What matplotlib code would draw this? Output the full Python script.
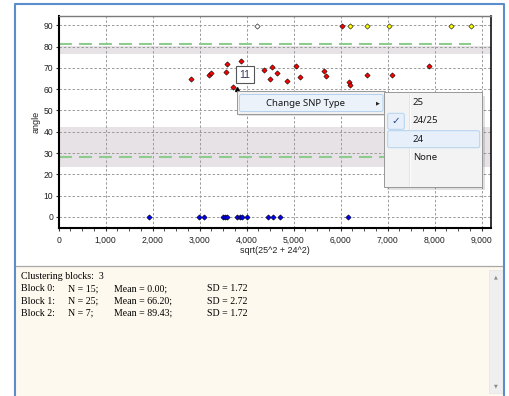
import matplotlib
matplotlib.use("Agg")
import matplotlib.pyplot as plt
from matplotlib.patches import Rectangle, FancyBboxPatch
from matplotlib.lines import Line2D
from matplotlib.ticker import MultipleLocator, FuncFormatter

# ---------------- data ----------------
red_x = [2820, 3190, 3240, 3560, 3590, 3700, 3870, 3995, 4370, 4505, 4530,
         4650, 4850, 5055, 5130, 5650, 5695, 6175, 6205, 6560, 7100, 7880]
red_y = [64.6, 66.5, 67.6, 68.1, 72.0, 61.0, 73.4, 64.6, 68.9, 64.9, 70.3,
         67.6, 63.7, 70.7, 65.7, 68.4, 66.0, 63.4, 62.1, 66.8, 66.8, 70.7]
top_red_x = [6026]
top_red_y = [89.6]
yellow_x = [6195, 6560, 7036, 8343, 8776]
yellow_y = [89.6, 89.6, 89.6, 89.6, 89.6]
white_x = [4214]
white_y = [89.6]
blue_x = [1925, 2990, 3100, 3490, 3530, 3580, 3790, 3860, 3895, 4000,
          4450, 4550, 4700, 6160]
blue_y = [0, 0, 0, 0, 0, 0, 0, 0, 0, 0, 0, 0, 0, 0]
selected_x = [3800]
selected_y = [60.0]
selected_label = "11"
label_x = 3966
label_y = 66.8

threshold_lines = [81.4, 28.3]
bands = [(76.4, 80.3), (23.5, 42.1)]

x_ticks = [0, 1000, 2000, 3000, 4000, 5000, 6000, 7000, 8000, 9000]
y_ticks = [0, 10, 20, 30, 40, 50, 60, 70, 80, 90]
x_label = "sqrt(25^2 + 24^2)"
y_label = "angle"

menu_item = "Change SNP Type"
submenu_items = ["25", "24/25", "24", "None"]

n_blocks = 3
block_n = [15, 25, 7]
block_mean = [0.00, 66.20, 89.43]
block_sd = [1.72, 2.72, 1.72]

# ---------------- figure ----------------
W, H = 510, 396
fig = plt.figure(figsize=(W / 100, H / 100), dpi=100)
fig.patch.set_facecolor("white")


def prect(x0, y0, x1, y1, **kw):
    r = Rectangle((x0 / W, 1 - y1 / H), (x1 - x0) / W, (y1 - y0) / H,
                  transform=fig.transFigure, **kw)
    fig.add_artist(r)
    return r


def pround(x0, y0, x1, y1, **kw):
    r = FancyBboxPatch((x0 / W, 1 - y1 / H), (x1 - x0) / W, (y1 - y0) / H,
                       boxstyle="round,pad=0,rounding_size=0.004",
                       transform=fig.transFigure, **kw)
    fig.add_artist(r)
    return r


def pline(xs, ys, **kw):
    ln = Line2D([x / W for x in xs], [1 - y / H for y in ys],
                transform=fig.transFigure, **kw)
    fig.add_artist(ln)
    return ln


def ptext(x, y, s, **kw):
    return fig.text(x / W, 1 - y / H, s, **kw)


# background panels
prect(16, 266.5, 503.5, 397, facecolor="#FEF9EE", edgecolor="none", zorder=-5)
pline([16, 503.5], [266, 266], color="#A8A8A8", lw=0.9, zorder=-4)
# outer blue frame
pline([15, 15, 504, 504], [400, 3.8, 3.8, 400], color="#5B8DCB", lw=1.5, zorder=-3)

# scrollbar
prect(489.5, 270, 503, 392.7, facecolor="#EFEFEF", edgecolor="#E4E4E4", lw=0.5, zorder=-4)
ptext(496.3, 277, "\u25B2", fontsize=3.5, color="#8A8A8A", ha="center", va="center",
      family="DejaVu Sans", zorder=-3)
ptext(496.3, 386, "\u25BC", fontsize=3.5, color="#8A8A8A", ha="center", va="center",
      family="DejaVu Sans", zorder=-3)

# ---------------- axes ----------------
ax_l, ax_r, ax_t, ax_b = 58.7, 491, 15.7, 228
ax = fig.add_axes([ax_l / W, 1 - ax_b / H, (ax_r - ax_l) / W, (ax_b - ax_t) / H])
ax.set_facecolor("white")
ax.set_xlim(0, 9200)
ax.set_ylim(-5.2, 94.5)

for lo, hi in bands:
    ax.axhspan(lo, hi, facecolor="#E7E2E6", edgecolor="none", zorder=0.3)

ax.set_xticks(x_ticks)
ax.set_yticks(y_ticks)
ax.xaxis.set_minor_locator(MultipleLocator(250))
ax.xaxis.set_major_formatter(FuncFormatter(lambda v, p: f"{int(v):,}"))
ax.grid(True, which="major", color="#9A9A9A", lw=0.7, linestyle=(0, (2.5, 2.0)), zorder=0.6)
ax.set_axisbelow(True)

ax.tick_params(axis="both", which="major", direction="out", length=2.5, width=0.8,
               color="#333333", labelsize=6.2, labelcolor="#222222", pad=1.5)
ax.tick_params(axis="x", which="major", pad=3)
ax.tick_params(axis="x", which="minor", direction="out", length=1.8, width=0.6, color="#333333")
for lab in ax.get_xticklabels() + ax.get_yticklabels():
    lab.set_family("Liberation Sans")

ax.spines["left"].set_linewidth(1.5)
ax.spines["bottom"].set_linewidth(1.5)
ax.spines["left"].set_color("black")
ax.spines["bottom"].set_color("black")
ax.spines["top"].set_color("#7A7A7A")
ax.spines["top"].set_linewidth(1.0)
ax.spines["right"].set_color("#111111")
ax.spines["right"].set_linewidth(1.2)

all_x = red_x + top_red_x + yellow_x + white_x + blue_x
xmax_data = max(all_x)
for yv in threshold_lines:
    ax.hlines(yv, 0, xmax_data, colors="#8ECB8E", lw=1.5,
              linestyles=[(0, (6.2, 3.4))], zorder=2)

mk = dict(marker="D", markersize=2.7, markeredgecolor="black", markeredgewidth=0.4,
          linestyle="none", zorder=4)
ax.plot(red_x, red_y, markerfacecolor="#FF0000", **mk)
ax.plot(top_red_x, top_red_y, markerfacecolor="#FF0000", **mk)
ax.plot(yellow_x, yellow_y, markerfacecolor="#FFFF00", **mk)
ax.plot(white_x, white_y, markerfacecolor="white", **mk)
ax.plot(blue_x, blue_y, markerfacecolor="#0000FF", **mk)
ax.plot(selected_x, selected_y, marker="^", markersize=2.8, color="black",
        linestyle="none", zorder=5)
ax.text(label_x, label_y, selected_label, fontsize=7.5, color="#3A3060",
        family="Liberation Sans", ha="center", va="center", zorder=6,
        bbox=dict(boxstyle="square,pad=0.32", fc="white", ec="#555555", lw=0.8))

ax.set_xlabel(x_label, fontsize=6.5, family="Liberation Sans", color="#222222")
ax.set_ylabel(y_label, fontsize=6.5, family="Liberation Sans", color="#222222")
ax.xaxis.set_label_coords(0.5, -0.085)
ax.yaxis.set_label_coords(-0.041, 0.5)

# ---------------- context menu ----------------
mfont = dict(family="Noto Sans", fontsize=6.9, color="#1A1A1A", zorder=14)
# main menu
prect(239.5, 94, 388, 116.5, facecolor="#000000", alpha=0.12, edgecolor="none", zorder=10)
prect(236.7, 91, 385, 113.5, facecolor="#F1F1F1", edgecolor="#979797", lw=0.7, zorder=11)
pround(239.5, 94.5, 383, 111.5, facecolor="#EBF2FA", edgecolor="#B3D2EF", lw=0.7, zorder=12)
ptext(265.7, 103, menu_item, ha="left", va="center", **mfont)
ptext(377.7, 103, "\u25B6", ha="center", va="center", family="DejaVu Sans",
      fontsize=3.6, color="#222222", zorder=14)

# submenu
prect(387.5, 95.5, 485.5, 190, facecolor="#000000", alpha=0.12, edgecolor="none", zorder=10)
prect(384.3, 92.3, 482.3, 186.7, facecolor="#F3F3F3", edgecolor="#979797", lw=0.7, zorder=11)
pline([409, 409], [94, 185], color="#E0E0E0", lw=0.6, zorder=12)
pline([410, 410], [94, 185], color="#FFFFFF", lw=0.6, zorder=12)
pround(387.7, 113.3, 404.3, 129.3, facecolor="#E6EFFA", edgecolor="#B3D2EF", lw=0.7, zorder=12)
pround(387.7, 130.7, 479.7, 147.7, facecolor="#E6EFFA", edgecolor="#B3D2EF", lw=0.7, zorder=12)
item_y = [102.7, 120.7, 139, 157.3]
for s, yy in zip(submenu_items, item_y):
    ptext(413, yy, s, ha="left", va="center", **mfont)
ptext(396.3, 120.7, "\u2713", ha="center", va="center", family="DejaVu Sans",
      fontsize=7.5, color="#23468A", zorder=14)

# ---------------- info panel text ----------------
tfont = dict(family="Liberation Serif", fontsize=7.1, color="black", va="baseline")
ptext(21, 279, f"Clustering blocks:  {n_blocks}", **tfont)
for i in range(len(block_n)):
    yy = 291.4 + i * 12.1
    ptext(21, yy, f"Block {i}:", **tfont)
    ptext(67.7, yy, f"N = {block_n[i]};", **tfont)
    ptext(114, yy, f"Mean = {block_mean[i]:.2f};", **tfont)
    ptext(206.7, yy, f"SD = {block_sd[i]:.2f}", **tfont)

fig.savefig("out.png", dpi=100)
